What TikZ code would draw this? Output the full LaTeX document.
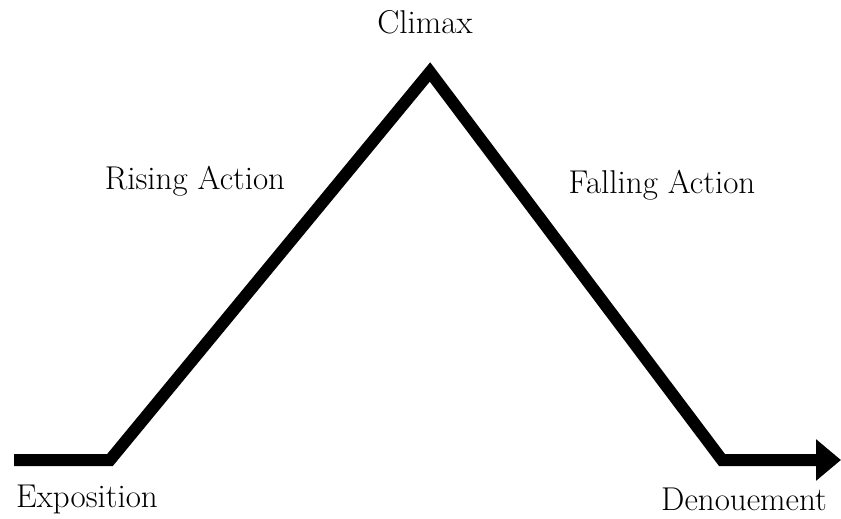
\documentclass[tikz,border=0pt]{standalone}
\usepackage{tikz}
\usetikzlibrary{arrows.meta,positioning}
\tikzset{
  arclabel/.style={font=\fontsize{33}{38}\selectfont, inner sep=0pt},
  plotline/.style={line width=12pt, black, -{Triangle[length=25pt,width=40pt]}}
}

\begin{document}
\begin{tikzpicture}[x=1pt, y=-1pt]
  \useasboundingbox (0,0) rectangle (841,519);
  \coordinate (start) at (14,460);
  \coordinate (rise) at (110,460);
  \coordinate (peak) at (430,72);
  \coordinate (fall) at (722,460);
  \coordinate (end) at (841,460);
  \draw[plotline] (start) -- (rise) -- (peak) -- (fall) -- (end);
  \node[arclabel] (climax) at (425,22) {Climax};
  \node[arclabel] (rising) at (195,181) {Rising Action};
  \node[arclabel] (falling) at (662,185) {Falling Action};
  \node[arclabel] (expo) at (87,499) {Exposition};
  \node[arclabel] (denou) at (744,499) {Denouement};
\end{tikzpicture}
\end{document}
